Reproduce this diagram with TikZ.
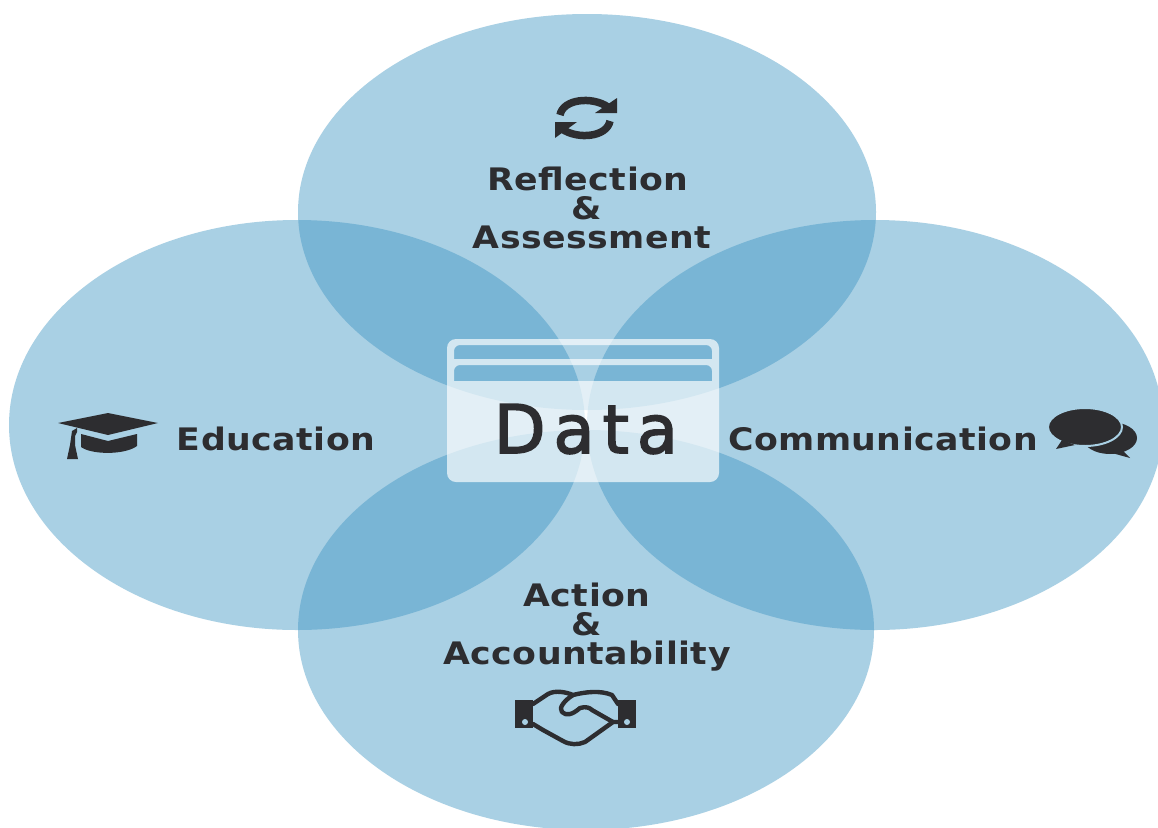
\documentclass[tikz,border=0pt]{standalone}
\usepackage{fontspec}
\setmainfont{DejaVu Sans}
\newfontfamily\lblfont[LetterSpace=1.5,FakeStretch=1.12]{DejaVu Sans}
\newfontfamily\datafont[LetterSpace=12,FakeBold=2.5]{DejaVu Sans}
\definecolor{venn}{RGB}{60,148,194}
\definecolor{ink}{RGB}{45,45,48}
\definecolor{iconbg}{RGB}{169,208,228}
\tikzset{
  petal/.style={fill=venn,fill opacity=.44},
  lbl/.style={inner sep=0pt,anchor=base,text=ink,font=\lblfont\fontsize{31}{31}\selectfont\bfseries},
  icon/.style={fill=ink,draw=none},
  iconline/.style={draw=ink,line width=4.4pt,line join=round,line cap=round,fill=none},
}
\begin{document}
\begin{tikzpicture}[x=1pt,y=-1pt]
\useasboundingbox (0,0) rectangle (1158,827);
\fill[white] (0,0) rectangle (1158,827);
% petals
\path[petal] (587,212) ellipse [x radius=289,y radius=198];
\path[petal] (586,630) ellipse [x radius=288,y radius=200];
\path[petal] (297,425) ellipse [x radius=288,y radius=205];
\path[petal] (875,425) ellipse [x radius=288,y radius=205];
% card
\fill[white,fill opacity=.68,even odd rule,rounded corners=9pt]
  (447,339) rectangle (719,482)
  {[rounded corners=0pt] (454,359) -- (454,351) [rounded corners=6pt] -- (454,345) -- (712,345) -- (712,351) [rounded corners=0pt] -- (712,359) -- cycle}
  {[rounded corners=0pt] (454,381) -- (454,371) [rounded corners=6pt] -- (454,365) -- (712,365) -- (712,371) [rounded corners=0pt] -- (712,381) -- cycle};
\node[inner sep=0pt,anchor=base,text=ink,font=\datafont\fontsize{67}{67}\selectfont] (data) at (586,453) {Data};
% labels
\node[lbl] (reflect) at (588,190) {Reflection};
\node[lbl] (amp1) at (587,219) {\&};
\node[lbl] (assess) at (592,248) {Assessment};
\node[lbl] (educ) at (276,450) {Education};
\node[lbl] (comm) at (883,450) {Communication};
\node[lbl] (action) at (587,606) {Action};
\node[lbl] (amp2) at (587,635) {\&};
\node[lbl] (account) at (587,664) {Accountability};
% refresh icon
\draw[ink,line width=7.5pt] (560,115) .. controls (563,99) and (592,96) .. (608,107);
\fill[ink] (617,98) -- (617,113) -- (595,113) -- cycle;
\draw[ink,line width=7.5pt] (610,121) .. controls (607,137) and (578,140) .. (562,129);
\fill[ink] (555,122) -- (577,122) -- (555,138) -- cycle;
% cap icon
\fill[icon] (58,423) -- (108,413) -- (158,423) -- (108,435) -- cycle;
\fill[icon] (81,434) -- (108,441) -- (137,434) -- (137,446)
  .. controls (125,455) and (92,455) .. (81,447) -- cycle;
\fill[icon] (72,431) -- (77,428) -- (77,432) -- (75,436) -- (75,445) -- (78,459) -- (67,459) -- (70,445) -- cycle;
% chat icon
\fill[icon] (1110,438) ellipse [x radius=27,y radius=16];
\fill[icon] (1122,450) -- (1130,458) -- (1112,453) -- cycle;
\fill[icon,draw=iconbg,line width=2pt] (1085,427) ellipse [x radius=37,y radius=19];
\fill[icon] (1062,440) -- (1056,449) -- (1075,445) -- cycle;
% handshake icon
\fill[icon] (515,700) rectangle (533,728);
\fill[icon] (618,700) rectangle (636,728);
\fill[iconbg] (525,722) circle (3);
\fill[iconbg] (627,722) circle (3);
\draw[iconline] (533,704) -- (548,694) .. controls (555,690) and (566,692) .. (573,695)
  .. controls (585,692) and (600,690) .. (612,695) -- (618,704);
\draw[iconline] (533,724) -- (543,730) -- (563,741) .. controls (570,745) and (578,745) .. (585,742) -- (613,722) -- (618,722);
\draw[iconline] (573,695) .. controls (565,700) and (558,708) .. (562,712) .. controls (566,716) and (572,715) .. (580,708)
  .. controls (586,706) and (590,708) .. (592,710) -- (613,722);
\end{tikzpicture}
\end{document}
